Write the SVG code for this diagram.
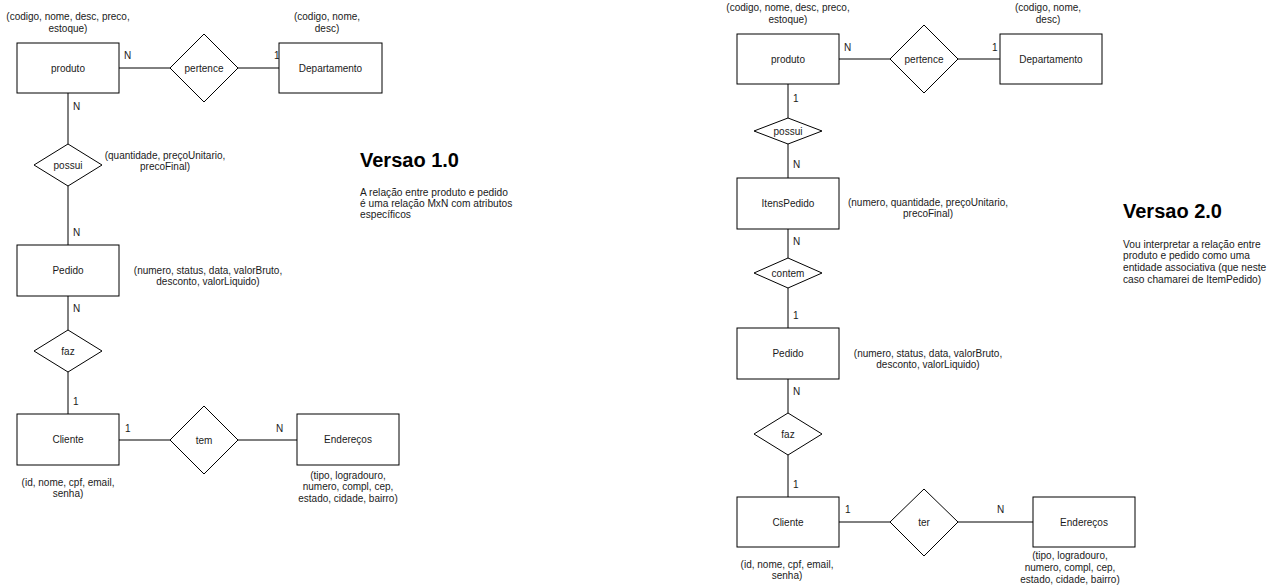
<svg xmlns="http://www.w3.org/2000/svg" width="1280" height="588" viewBox="0 0 1280 588">
<style>
.box{fill:#fff;stroke:#000;stroke-width:1}
.dia{fill:#fff;stroke:#000;stroke-width:1}
.edge{stroke:#000;stroke-width:1;fill:none}
text{font-family:"Liberation Sans",Arial,sans-serif;font-size:10px;fill:#1a1a1a}
.c{text-anchor:middle}
.h{font-size:20px;font-weight:bold;fill:#000}
.p{font-size:10.2px}
</style>
<rect width="1280" height="588" fill="#fff"/>

<!-- ===== Versao 1.0 ===== -->
<g id="edges-v1">
<line class="edge" x1="119" y1="68" x2="170" y2="68"/>
<line class="edge" x1="238" y1="68" x2="279" y2="68"/>
<line class="edge" x1="68" y1="93" x2="68" y2="144"/>
<line class="edge" x1="68" y1="186" x2="68" y2="245"/>
<line class="edge" x1="68" y1="296" x2="68" y2="330"/>
<line class="edge" x1="68" y1="372" x2="68" y2="414"/>
<line class="edge" x1="119" y1="440" x2="170" y2="440"/>
<line class="edge" x1="238" y1="440" x2="297" y2="440"/>
<text x="124" y="58.5">N</text>
<text x="274" y="58.5">1</text>
<text x="73" y="109.5">N</text>
<text x="73" y="235.5">N</text>
<text x="73" y="311.5">N</text>
<text x="73" y="404.5">1</text>
<text x="125" y="431.5">1</text>
<text x="276" y="431.5">N</text>
</g>

<g id="v1-produto">
<rect class="box" x="17" y="43" width="102" height="50"/>
<text class="c" x="68" y="71.5">produto</text>
<text class="c" x="68" y="19.5">(codigo, nome, desc, preco,</text>
<text class="c" x="68" y="31.5">estoque)</text>
</g>
<g id="v1-pertence">
<polygon class="dia" points="170,68 204,34 238,68 204,102"/>
<text class="c" x="204" y="71.5">pertence</text>
</g>
<g id="v1-departamento">
<rect class="box" x="279" y="43" width="103" height="50"/>
<text class="c" x="330.5" y="71.5">Departamento</text>
<text class="c" x="327" y="19.5">(codigo, nome,</text>
<text class="c" x="327" y="31.5">desc)</text>
</g>
<g id="v1-possui">
<polygon class="dia" points="34,165 68,144 102,165 68,186"/>
<text class="c" x="68" y="168.5">possui</text>
<text class="c" x="165" y="158.5">(quantidade, preçoUnitario,</text>
<text class="c" x="165" y="169.5">precoFinal)</text>
</g>
<g id="v1-pedido">
<rect class="box" x="17" y="245" width="102" height="51"/>
<text class="c" x="68" y="274">Pedido</text>
<text class="c" x="208" y="273.5">(numero, status, data, valorBruto,</text>
<text class="c" x="208" y="284.5">desconto, valorLiquido)</text>
</g>
<g id="v1-faz">
<polygon class="dia" points="34,351 68,330 102,351 68,372"/>
<text class="c" x="68" y="354.5">faz</text>
</g>
<g id="v1-cliente">
<rect class="box" x="17" y="414" width="102" height="51"/>
<text class="c" x="68" y="443">Cliente</text>
<text class="c" x="68" y="485.5">(id, nome, cpf, email,</text>
<text class="c" x="68" y="496.5">senha)</text>
</g>
<g id="v1-tem">
<polygon class="dia" points="170,440 204,406 238,440 204,474"/>
<text class="c" x="204" y="443.5">tem</text>
</g>
<g id="v1-enderecos">
<rect class="box" x="297" y="414" width="102" height="51"/>
<text class="c" x="348" y="443">Endereços</text>
<text class="c" x="348" y="478.5">(tipo, logradouro,</text>
<text class="c" x="348" y="490">numero, compl, cep,</text>
<text class="c" x="348" y="501.5">estado, cidade, bairro)</text>
</g>
<g id="v1-note">
<text class="h" x="360" y="167">Versao 1.0</text>
<text class="p" x="360" y="195.5">A relação entre produto e pedido</text>
<text class="p" x="360" y="206.5">é uma relação MxN com atributos</text>
<text class="p" x="360" y="217.5">específicos</text>
</g>

<!-- ===== Versao 2.0 ===== -->
<g id="edges-v2">
<line class="edge" x1="839" y1="59" x2="890" y2="59"/>
<line class="edge" x1="958" y1="59" x2="1000" y2="59"/>
<line class="edge" x1="788" y1="84" x2="788" y2="118"/>
<line class="edge" x1="788" y1="144" x2="788" y2="178"/>
<line class="edge" x1="788" y1="229" x2="788" y2="258"/>
<line class="edge" x1="788" y1="288" x2="788" y2="328"/>
<line class="edge" x1="788" y1="379" x2="788" y2="413"/>
<line class="edge" x1="788" y1="455" x2="788" y2="497"/>
<line class="edge" x1="839" y1="522" x2="890" y2="522"/>
<line class="edge" x1="958" y1="522" x2="1033" y2="522"/>
<text x="844" y="50.5">N</text>
<text x="992" y="50.5">1</text>
<text x="793" y="101.5">1</text>
<text x="793" y="167.5">N</text>
<text x="793" y="244.5">N</text>
<text x="793" y="318.5">1</text>
<text x="793" y="394.5">N</text>
<text x="793" y="487.5">1</text>
<text x="845" y="512.5">1</text>
<text x="997" y="512.5">N</text>
</g>

<g id="v2-produto">
<rect class="box" x="737" y="34" width="102" height="50"/>
<text class="c" x="788" y="62.5">produto</text>
<text class="c" x="788" y="10.5">(codigo, nome, desc, preco,</text>
<text class="c" x="788" y="22.5">estoque)</text>
</g>
<g id="v2-pertence">
<polygon class="dia" points="890,59 924,25 958,59 924,93"/>
<text class="c" x="924" y="62.5">pertence</text>
</g>
<g id="v2-departamento">
<rect class="box" x="1000" y="34" width="102" height="50"/>
<text class="c" x="1051" y="62.5">Departamento</text>
<text class="c" x="1048" y="10.5">(codigo, nome,</text>
<text class="c" x="1048" y="22.5">desc)</text>
</g>
<g id="v2-possui">
<polygon class="dia" points="754,131 788,118 822,131 788,144"/>
<text class="c" x="788" y="134.5">possui</text>
</g>
<g id="v2-itenspedido">
<rect class="box" x="737" y="178" width="102" height="51"/>
<text class="c" x="788" y="207">ItensPedido</text>
<text class="c" x="928" y="205.5">(numero, quantidade, preçoUnitario,</text>
<text class="c" x="928" y="216.5">precoFinal)</text>
</g>
<g id="v2-contem">
<polygon class="dia" points="754,273 788,258 822,273 788,288"/>
<text class="c" x="788" y="276.5">contem</text>
</g>
<g id="v2-pedido">
<rect class="box" x="737" y="328" width="102" height="51"/>
<text class="c" x="788" y="357">Pedido</text>
<text class="c" x="928" y="356.5">(numero, status, data, valorBruto,</text>
<text class="c" x="928" y="367.5">desconto, valorLiquido)</text>
</g>
<g id="v2-faz">
<polygon class="dia" points="754,434 788,413 822,434 788,455"/>
<text class="c" x="788" y="437.5">faz</text>
</g>
<g id="v2-cliente">
<rect class="box" x="737" y="497" width="102" height="50"/>
<text class="c" x="788" y="525.5">Cliente</text>
<text class="c" x="787" y="567.5">(id, nome, cpf, email,</text>
<text class="c" x="787" y="578.5">senha)</text>
</g>
<g id="v2-ter">
<polygon class="dia" points="890,522 924,489 958,522 924,556"/>
<text class="c" x="924" y="525.5">ter</text>
</g>
<g id="v2-enderecos">
<rect class="box" x="1033" y="497" width="102" height="50"/>
<text class="c" x="1084" y="525.5">Endereços</text>
<text class="c" x="1070" y="559">(tipo, logradouro,</text>
<text class="c" x="1070" y="571">numero, compl, cep,</text>
<text class="c" x="1070" y="583">estado, cidade, bairro)</text>
</g>
<g id="v2-note">
<text class="h" x="1123" y="218">Versao 2.0</text>
<text class="p" x="1123" y="247.5">Vou interpretar a relação entre</text>
<text class="p" x="1123" y="259">produto e pedido como uma</text>
<text class="p" x="1123" y="270.5">entidade associativa (que neste</text>
<text class="p" x="1123" y="282.5">caso chamarei de ItemPedido)</text>
</g>
</svg>
